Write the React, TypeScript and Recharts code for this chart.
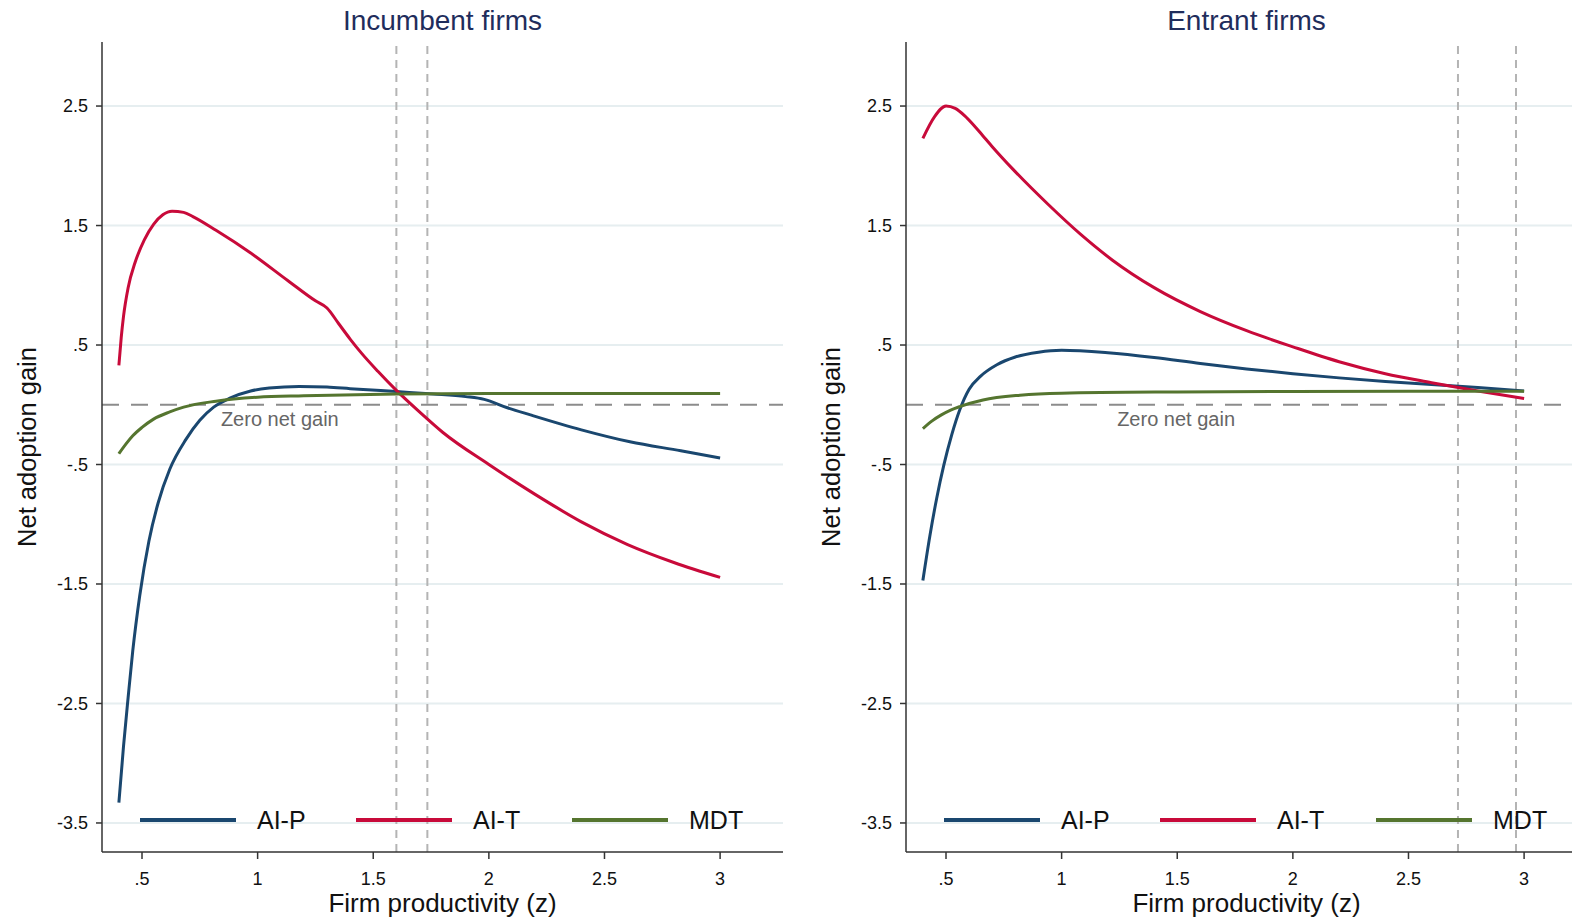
import React from 'react';
import {
  LineChart, Line, XAxis, YAxis, CartesianGrid, ReferenceLine, ReferenceDot,
} from 'recharts';

// x = firm productivity (z), y = net adoption gain
const incAIP: [number, number][] = [
  [0.40, -3.33], [0.42, -2.86], [0.44, -2.45], [0.46, -2.06], [0.49, -1.6], [0.53, -1.14],
  [0.57, -0.82], [0.62, -0.54], [0.69, -0.29], [0.75, -0.13], [0.81, -0.02], [0.88, 0.055],
  [0.97, 0.115], [1.05, 0.14], [1.18, 0.153], [1.30, 0.148], [1.40, 0.135], [1.60, 0.11],
  [1.76, 0.09], [1.90, 0.068], [1.98, 0.045], [2.08, -0.025], [2.18, -0.085], [2.40, -0.21],
  [2.61, -0.31], [2.83, -0.385], [3.0, -0.445],
];
const incAIT: [number, number][] = [
  [0.40, 0.33], [0.41, 0.56], [0.42, 0.74], [0.44, 0.98], [0.47, 1.19], [0.51, 1.38],
  [0.55, 1.51], [0.59, 1.59], [0.63, 1.62], [0.68, 1.61], [0.72, 1.575], [0.82, 1.46],
  [0.97, 1.27], [1.13, 1.04], [1.25, 0.87], [1.30, 0.81], [1.35, 0.68], [1.40, 0.55],
  [1.45, 0.43], [1.52, 0.28], [1.60, 0.12], [1.70, -0.06], [1.80, -0.23],
  [2.0, -0.50], [2.2, -0.75], [2.4, -0.98], [2.6, -1.17], [2.8, -1.32], [3.0, -1.445],
];
const incMDT: [number, number][] = [
  [0.40, -0.41], [0.43, -0.33], [0.46, -0.26], [0.50, -0.19], [0.55, -0.12], [0.62, -0.06],
  [0.68, -0.02], [0.82, 0.03], [1.0, 0.063], [1.2, 0.075], [1.6, 0.09], [2.0, 0.094],
  [2.5, 0.095], [3.0, 0.095],
];

const entAIP: [number, number][] = [
  [0.40, -1.47], [0.43, -1.10], [0.46, -0.78], [0.49, -0.51], [0.525, -0.25], [0.56, -0.04],
  [0.60, 0.13], [0.65, 0.24], [0.72, 0.335], [0.80, 0.40], [0.90, 0.44], [1.0, 0.456],
  [1.2, 0.435], [1.4, 0.395], [1.6, 0.345], [1.8, 0.30], [2.0, 0.26], [2.2, 0.225],
  [2.4, 0.195], [2.6, 0.17], [2.8, 0.145], [3.0, 0.115],
];
const entAIT: [number, number][] = [
  [0.40, 2.23], [0.45, 2.41], [0.50, 2.50], [0.54, 2.48], [0.58, 2.42], [0.62, 2.34],
  [0.66, 2.25], [0.70, 2.16], [0.79, 1.97], [0.94, 1.68], [1.08, 1.43], [1.22, 1.21],
  [1.4, 0.98], [1.6, 0.78], [1.8, 0.62], [2.0, 0.485], [2.2, 0.36], [2.4, 0.26],
  [2.6, 0.185], [2.8, 0.115], [3.0, 0.052],
];
const entMDT: [number, number][] = [
  [0.40, -0.20], [0.44, -0.135], [0.48, -0.085], [0.52, -0.045], [0.56, -0.015], [0.66, 0.04],
  [0.82, 0.08], [1.0, 0.097], [1.5, 0.107], [2.0, 0.111], [2.5, 0.113], [3.0, 0.113],
];

const xTicks = [0.5, 1, 1.5, 2, 2.5, 3];
const yTicks = [2.5, 1.5, 0.5, -0.5, -1.5, -2.5, -3.5];
const incCutoffs = [1.6, 1.734];
const entCutoffs = [2.714, 2.965];
const seriesNames = ['AI-P', 'AI-T', 'MDT'];

const COLORS = ['#1a476f', '#c80a3a', '#55752f'];
const FONT = 'Arial, "Liberation Sans", sans-serif';

const fmt = (v: number) => String(v).replace(/^(-?)0\./, '$1.');
const toRows = (pts: [number, number][]) => pts.map(([x, y]) => ({ x, y }));

type PanelProps = {
  left: number;
  title: string;
  series: [number, number][][];
  cutoffs: number[];
  zeroLabelX: number;
};

function Panel({ left, title, series, cutoffs, zeroLabelX }: PanelProps) {
  const plotLeft = 102;
  const plotW = 681;
  return (
    <div style={{ position: 'absolute', left, top: 0, width: 800, height: 920 }}>
      <LineChart width={800} height={920} margin={{ top: 42, right: 17, left: 0, bottom: 0 }}>
        <CartesianGrid vertical={false} horizontalValues={yTicks} stroke="#e6eef0" strokeWidth={2} />
        <XAxis
          type="number" dataKey="x" domain={[0.327, 3.272]} ticks={xTicks} allowDataOverflow
          tickFormatter={fmt} height={68} tickSize={7} tickMargin={13}
          tick={{ fill: '#111', fontSize: 18, fontFamily: FONT }}
          stroke="#333" strokeWidth={1.5}
        />
        <YAxis
          type="number" domain={[-3.743, 3.036]} ticks={yTicks} allowDataOverflow
          tickFormatter={fmt} width={102} tickSize={6} tickMargin={8}
          tick={{ fill: '#111', fontSize: 18, fontFamily: FONT }}
          stroke="#333" strokeWidth={1.5}
        />
        <ReferenceLine y={0} stroke="#8c8c8c" strokeWidth={2} strokeDasharray="17 12" />
        {cutoffs.map((c) => (
          <ReferenceLine key={c} x={c} stroke="#b4b4b4" strokeWidth={2} strokeDasharray="8 6" />
        ))}
        <ReferenceDot
          x={zeroLabelX} y={-0.12} r={0} fill="none" stroke="none"
          label={{ value: 'Zero net gain', position: 'center', fill: '#666', fontSize: 20, fontFamily: FONT }}
        />
        {series.map((pts, i) => (
          <Line
            key={seriesNames[i]} data={toRows(pts)} dataKey="y" name={seriesNames[i]}
            type="monotone" stroke={COLORS[i]} strokeWidth={3} dot={false}
            isAnimationActive={false}
          />
        ))}
      </LineChart>

      <div style={{
        position: 'absolute', left: plotLeft, top: 5, width: plotW, textAlign: 'center',
        fontSize: 28, lineHeight: '32px', color: '#1f2d5c', fontFamily: FONT,
      }}>{title}</div>

      <div style={{
        position: 'absolute', left: 27 - 150, top: 447 - 15, width: 300, height: 30,
        lineHeight: '30px', textAlign: 'center', fontSize: 25.5, fontFamily: FONT, color: '#111',
        transform: 'rotate(-90deg)',
      }}>Net adoption gain</div>

      <div style={{
        position: 'absolute', left: plotLeft, top: 891, width: plotW, textAlign: 'center',
        fontSize: 26, lineHeight: '24px', fontFamily: FONT, color: '#111',
      }}>Firm productivity (z)</div>

      <div style={{ position: 'absolute', left: 140, top: 805, display: 'flex', fontFamily: FONT }}>
        {seriesNames.map((n, i) => (
          <div key={n} style={{ width: 216, display: 'flex', alignItems: 'center', height: 30 }}>
            <span style={{ display: 'inline-block', width: 96, height: 4, background: COLORS[i] }} />
            <span style={{ marginLeft: 21, fontSize: 25, color: '#111' }}>{n}</span>
          </div>
        ))}
      </div>
    </div>
  );
}

export default function App() {
  return (
    <div style={{
      position: 'absolute', left: 0, top: 0, width: 1572, height: 920,
      overflow: 'hidden', background: '#fff',
    }}>
      <Panel left={0} title="Incumbent firms" series={[incAIP, incAIT, incMDT]} cutoffs={incCutoffs} zeroLabelX={1.096} />
      <Panel left={804} title="Entrant firms" series={[entAIP, entAIT, entMDT]} cutoffs={entCutoffs} zeroLabelX={1.495} />
    </div>
  );
}
